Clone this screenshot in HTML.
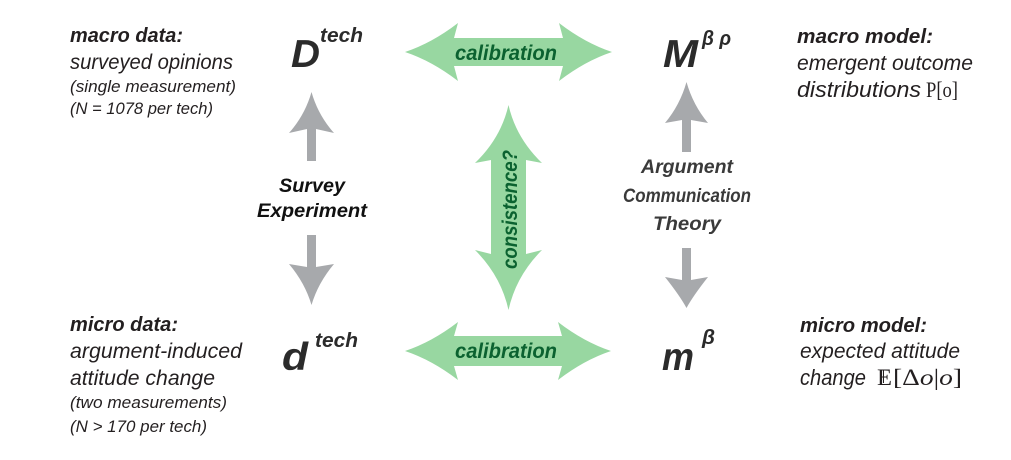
<!DOCTYPE html>
<html><head><meta charset="utf-8"><style>
html,body{margin:0;padding:0;background:#fff;}
svg{display:block;}
text{font-family:"Liberation Sans",sans-serif;}
.bi{font-weight:bold;font-style:italic;}
.it{font-style:italic;}
.ser{font-family:"Liberation Serif",serif;}
</style></head><body>
<svg width="1011" height="460" viewBox="0 0 1011 460" xmlns="http://www.w3.org/2000/svg">
<rect width="1011" height="460" fill="#fff"/>

<!-- green arrows -->
<path d="M405,52 Q432,43 458,23 L454,38 L563,38 L559,23 Q585,43 612,52 Q585,61 559,81 L563,66 L454,66 L458,81 Q432,61 405,52 Z" fill="#98d7a1"/>
<path d="M405,351 Q432,342 458,322 L454,336 L562,336 L558,322 Q584,342 611,351 Q584,360 558,380 L562,366 L454,366 L458,380 Q432,360 405,351 Z" fill="#98d7a1"/>
<path d="M508.5,105 Q516,138 542,163 L526,160 L526,254 L542,250 Q516,276 508.5,310 Q501,276 475,250 L491,254 L491,160 L475,163 Q501,138 508.5,105 Z" fill="#98d7a1"/>

<text class="bi" x="455" y="60" font-size="21" fill="#0b6230" textLength="102" lengthAdjust="spacingAndGlyphs">calibration</text>
<text class="bi" x="455" y="358" font-size="21" fill="#0b6230" textLength="102" lengthAdjust="spacingAndGlyphs">calibration</text>
<text class="bi" transform="translate(517,269) rotate(-90)" x="0" y="0" font-size="21" fill="#0b6230" textLength="119" lengthAdjust="spacingAndGlyphs">consistence?</text>

<!-- gray arrows -->
<g fill="#a7a9ac">
<path d="M311.5,92 Q318,115 334,133 L316,129 L316,161 L307,161 L307,129 L289,133 Q305,115 311.5,92 Z"/>
<path d="M307,235 L316,235 L316,267 L334,264 Q318,283 311.5,305 Q305,283 289,264 L307,267 Z"/>
<path d="M686.5,82 Q693,105 708,123 L691,120 L691,152 L682,152 L682,120 L665,123 Q680,105 686.5,82 Z"/>
<path d="M682,248 L691,248 L691,280 L708,277 Q693,296 686.5,308 Q680,296 665,277 L682,280 Z"/>
</g>

<text class="bi" x="312" y="192" font-size="19" fill="#111" text-anchor="middle" textLength="66" lengthAdjust="spacingAndGlyphs">Survey</text>
<text class="bi" x="312" y="217" font-size="19" fill="#111" text-anchor="middle" textLength="110" lengthAdjust="spacingAndGlyphs">Experiment</text>

<text class="bi" x="687" y="173" font-size="19" fill="#3a3a3a" text-anchor="middle" textLength="92" lengthAdjust="spacingAndGlyphs">Argument</text>
<text class="bi" x="687" y="202" font-size="19" fill="#3a3a3a" text-anchor="middle" textLength="128" lengthAdjust="spacingAndGlyphs">Communication</text>
<text class="bi" x="687" y="230" font-size="19" fill="#3a3a3a" text-anchor="middle" textLength="68" lengthAdjust="spacingAndGlyphs">Theory</text>

<!-- big symbols -->
<text class="bi" x="291" y="67" font-size="39" fill="#2b2b2b" textLength="29" lengthAdjust="spacingAndGlyphs">D</text>
<text class="bi" x="320" y="42" font-size="20" fill="#2b2b2b" textLength="43" lengthAdjust="spacingAndGlyphs">tech</text>

<text class="bi" x="663" y="67" font-size="39" fill="#2b2b2b" textLength="35" lengthAdjust="spacingAndGlyphs">M</text>
<text class="bi" x="702" y="45" font-size="20" fill="#2b2b2b" textLength="29" lengthAdjust="spacingAndGlyphs">β ρ</text>

<text class="bi" x="282" y="370" font-size="39" fill="#2b2b2b" textLength="26" lengthAdjust="spacingAndGlyphs">d</text>
<text class="bi" x="315" y="347" font-size="20" fill="#2b2b2b" textLength="43" lengthAdjust="spacingAndGlyphs">tech</text>

<text class="bi" x="662" y="370" font-size="39" fill="#2b2b2b" textLength="32" lengthAdjust="spacingAndGlyphs">m</text>
<text class="bi" x="702" y="344" font-size="20" fill="#2b2b2b" textLength="13" lengthAdjust="spacingAndGlyphs">β</text>

<!-- left labels -->
<g fill="#231f20">
<text class="bi" x="70" y="42" font-size="20" textLength="113" lengthAdjust="spacingAndGlyphs">macro data:</text>
<text class="it" x="70" y="69" font-size="21" textLength="163" lengthAdjust="spacingAndGlyphs">surveyed opinions</text>
<text class="it" x="70" y="92" font-size="17" textLength="166" lengthAdjust="spacingAndGlyphs">(single measurement)</text>
<text class="it" x="70" y="114" font-size="17" textLength="143" lengthAdjust="spacingAndGlyphs">(N = 1078 per tech)</text>

<text class="bi" x="70" y="331" font-size="20" textLength="108" lengthAdjust="spacingAndGlyphs">micro data:</text>
<text class="it" x="70" y="358" font-size="21" textLength="172" lengthAdjust="spacingAndGlyphs">argument-induced</text>
<text class="it" x="70" y="385" font-size="21" textLength="145" lengthAdjust="spacingAndGlyphs">attitude change</text>
<text class="it" x="70" y="408" font-size="17" textLength="157" lengthAdjust="spacingAndGlyphs">(two measurements)</text>
<text class="it" x="70" y="432" font-size="17" textLength="137" lengthAdjust="spacingAndGlyphs">(N  &gt; 170 per tech)</text>

<!-- right labels -->
<text class="bi" x="797" y="43" font-size="20" textLength="136" lengthAdjust="spacingAndGlyphs">macro model:</text>
<text class="it" x="797" y="70" font-size="21" textLength="176" lengthAdjust="spacingAndGlyphs">emergent outcome</text>
<text class="it" x="797" y="97" font-size="22" textLength="124" lengthAdjust="spacingAndGlyphs">distributions</text>
<text class="ser" x="926" y="97" font-size="22" textLength="32" lengthAdjust="spacingAndGlyphs">P[o]</text>

<text class="bi" x="800" y="332" font-size="20" textLength="127" lengthAdjust="spacingAndGlyphs">micro model:</text>
<text class="it" x="800" y="358" font-size="21" textLength="160" lengthAdjust="spacingAndGlyphs">expected attitude</text>
<text class="it" x="800" y="385" font-size="22" textLength="66" lengthAdjust="spacingAndGlyphs">change</text>
<text class="ser" x="877" y="385" font-size="23" textLength="15" lengthAdjust="spacingAndGlyphs">E</text>
<line x1="883.5" y1="370" x2="883.5" y2="383" stroke="#231f20" stroke-width="1"/>
<text class="ser" x="893" y="385" font-size="23" textLength="69" lengthAdjust="spacingAndGlyphs">[Δ<tspan font-style="italic">o</tspan>|<tspan font-style="italic">o</tspan>]</text>
</g>
</svg>
</body></html>
